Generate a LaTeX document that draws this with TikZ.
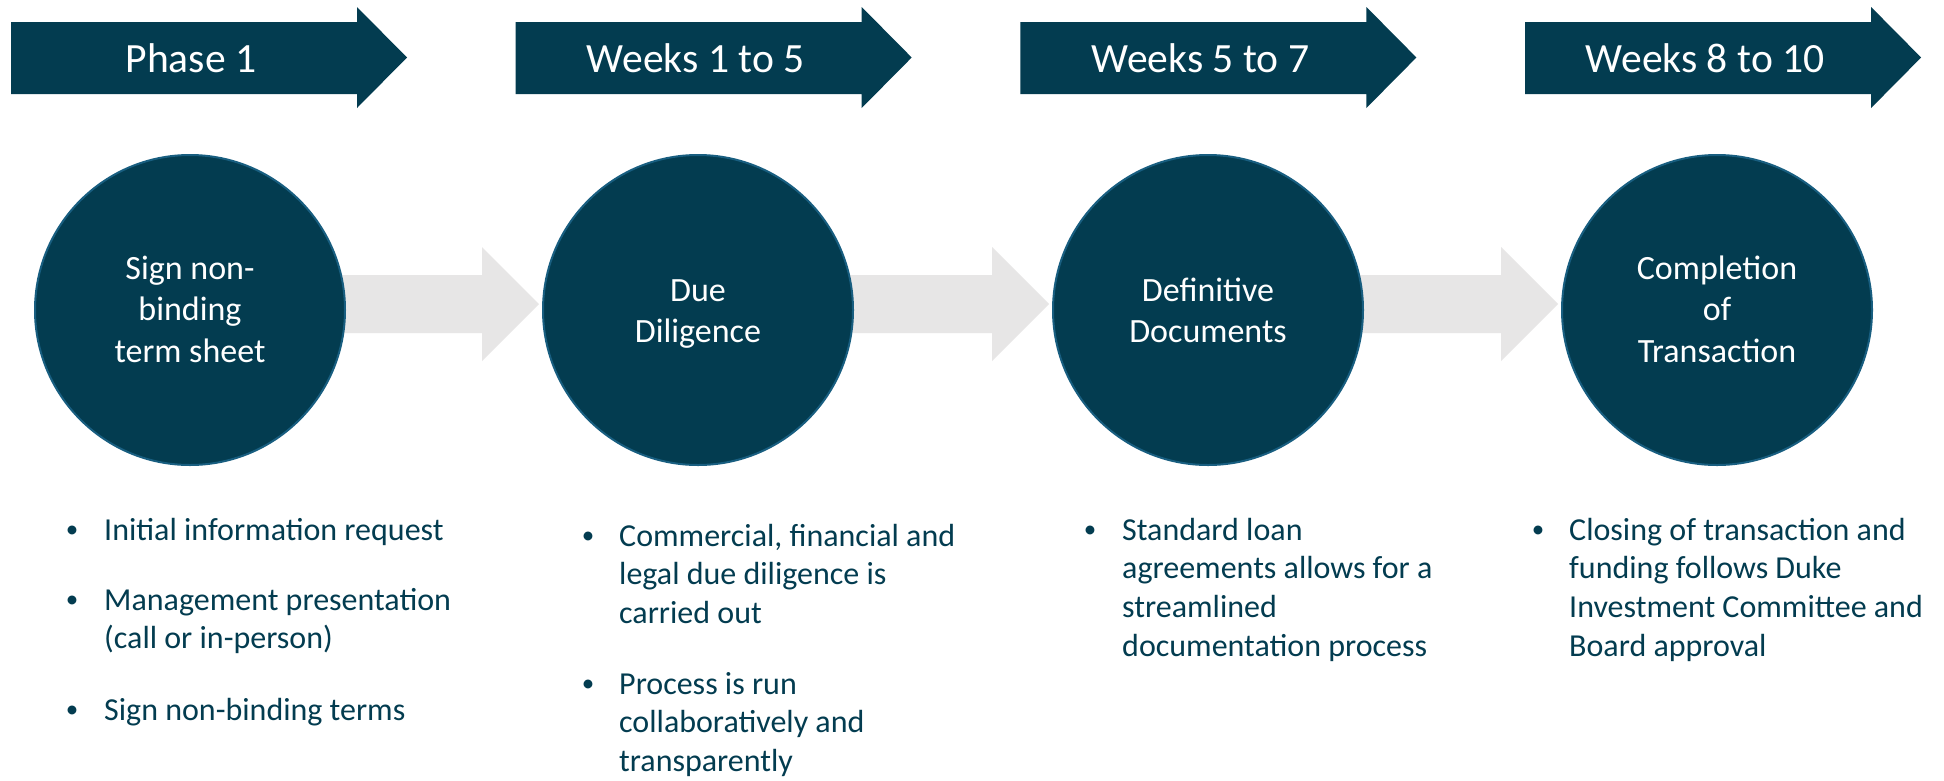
\documentclass[tikz,border=0pt]{standalone}
\usepackage{fontspec}
\setmainfont{Carlito}
\usetikzlibrary{calc}
\pgfdeclarelayer{background}
\pgfsetlayers{background,main}
\definecolor{navy}{RGB}{3,60,80}
\definecolor{rim}{RGB}{24,94,128}
\definecolor{pale}{RGB}{231,230,230}
\newcommand\LeftLines[1]{\vtop{\halign{##\hfil\cr#1\crcr}}}
\newcommand\MidLines[1]{\vtop{\halign{\hfil##\hfil\cr#1\crcr}}}
\begin{document}
\begin{tikzpicture}[x=1pt,y=-1pt,
  phasebar/.style={fill=navy},
  phaselabel/.style={anchor=base, text=white, font=\fontsize{41.6}{50}\selectfont, inner sep=0pt},
  stage/.style={circle, fill=navy, draw=rim, line width=2pt, minimum size=310pt, inner sep=0pt},
  stagetext/.style={anchor=base, text=white, font=\fontsize{34}{41.5}\selectfont, inner sep=0pt},
  flow/.style={fill=pale},
  bulletmark/.style={anchor=base, text=navy, font=\fontsize{25}{30}\selectfont, inner sep=0pt, yshift=3pt},
  bullettext/.style={anchor=base west, text=navy, font=\fontsize{32}{38.7}\selectfont, inner sep=0pt}]

\useasboundingbox (0,0) rectangle (1944,780);
\begin{pgfonlayer}{background}
\fill[white] (0,0) rectangle (1944,780);
\end{pgfonlayer}

% top phase arrows
\foreach \L/\txt/\nm in {11/Phase 1/p1, 515.7/Weeks 1 to 5/p2, 1020.4/Weeks 5 to 7/p3, 1525.1/Weeks 8 to 10/p4}{
  \fill[phasebar] (\L,22) -- (\L+346,22) -- (\L+346,7) -- (\L+396,57.5) -- (\L+346,108) -- (\L+346,94) -- (\L,94) -- cycle;
  \node[phaselabel] (\nm) at (\L+180,72) {\txt};
}

% stage circles
\node[stage] (c1) at (190,310) {};
\node[stage] (c2) at (698,310) {};
\node[stage] (c3) at (1208,310) {};
\node[stage] (c4) at (1717,310) {};

\node[stagetext] (t1) at (190,279) {\MidLines{Sign non-\cr binding\cr term sheet}};
\node[stagetext] (t2) at (698,301) {\MidLines{Due\cr Diligence}};
\node[stagetext] (t3) at (1208,301) {\MidLines{Definitive\cr Documents}};
\node[stagetext] (t4) at (1717,279) {\MidLines{Completion\cr of\cr Transaction}};

% grey flow arrows behind the circles
\begin{pgfonlayer}{background}
\foreach \a/\b in {c1/c2, c2/c3, c3/c4}{
  \fill[flow] ($(\a.center)+(0,-35)$) -- ($(\b.west)+(-60,-35)$) -- ($(\b.west)+(-60,-63)$)
    -- ($(\b.west)+(-3,-6)$) -- ($(\b.west)+(-60,51)$) -- ($(\b.west)+(-60,23)$)
    -- ($(\a.center)+(0,23)$) -- cycle;
}
\end{pgfonlayer}

% column 1
\node[bulletmark] (m11) at (72,540) {•};
\node[bullettext] (i11) at (104,540) {\LeftLines{Initial information request}};
\node[bulletmark] (m12) at (72,610) {•};
\node[bullettext] (i12) at (104,610) {\LeftLines{Management presentation\cr (call or in-person)}};
\node[bulletmark] (m13) at (72,720) {•};
\node[bullettext] (i13) at (104,720) {\LeftLines{Sign non-binding terms}};

% column 2
\node[bulletmark] (m21) at (588,546) {•};
\node[bullettext] (i21) at (619,546) {\LeftLines{Commercial, financial and\cr legal due diligence is\cr carried out}};
\node[bulletmark] (m22) at (588,694) {•};
\node[bullettext] (i22) at (619,694) {\LeftLines{Process is run\cr collaboratively and\cr transparently}};

% column 3
\node[bulletmark] (m31) at (1090,540) {•};
\node[bullettext] (i31) at (1122,540) {\LeftLines{Standard loan\cr agreements allows for a\cr streamlined\cr documentation process}};

% column 4
\node[bulletmark] (m41) at (1538,540) {•};
\node[bullettext] (i41) at (1569,540) {\LeftLines{Closing of transaction and\cr funding follows Duke\cr Investment Committee and\cr Board approval}};
\end{tikzpicture}
\end{document}
